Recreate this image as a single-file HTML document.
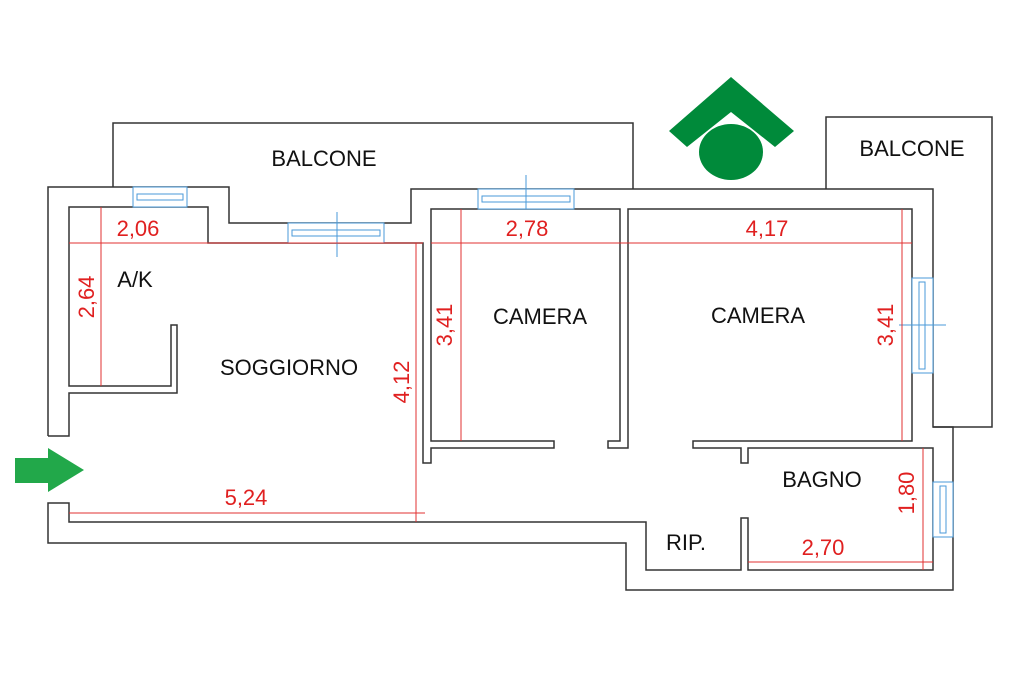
<!DOCTYPE html>
<html><head><meta charset="utf-8"><style>
body{margin:0;background:#fff}
svg{display:block}
text{font-family:"Liberation Sans",Arial,sans-serif}
</style></head><body>
<svg width="1024" height="682" viewBox="0 0 1024 682">
<rect width="1024" height="682" fill="#fff"/>
<g fill="none" stroke="#333" stroke-width="1.5">
<polyline points="113,187 113,123 633,123 633,189"/>
<polyline points="826,189 826,117 992,117 992,427 933,427"/>
<polyline points="48,436 48,187 229,187 229,223 411,223 411,189 933,189 933,427 953,427 953,590 626,590 626,543 48,543 48,503 69,503 69,522 646,522 646,570 741,570 741,518 748,518 748,570 933,570 933,448 748,448 748,463 741,463 741,448 693,448 693,441 912,441 912,209 628,209 628,448 608,448 608,441 620,441 620,209 431,209 431,441 554,441 554,448 431,448 431,463 423,463 423,243 208,243 208,207 69,207 69,386 171,386 171,325 177,325 177,393 69,393 69,436 48,436"/>
</g>
<g fill="#fff" stroke="#4a9ad8" stroke-width="1">
<rect x="133" y="187" width="54" height="20"/><rect x="137" y="194" width="46" height="6"/>
<rect x="288" y="223" width="96" height="20"/><rect x="292" y="230" width="88" height="6"/>
<rect x="478" y="189" width="96" height="20"/><rect x="482" y="196" width="88" height="6"/>
<rect x="912" y="278" width="21" height="95"/><rect x="919" y="282" width="6" height="87"/>
<rect x="933" y="482" width="20" height="55"/><rect x="940" y="486" width="6" height="47"/>
<line x1="337" y1="212" x2="337" y2="257"/>
<line x1="526" y1="175" x2="526" y2="209"/>
<line x1="899" y1="325" x2="946" y2="325"/>
</g>
<g stroke="#e03030" stroke-width="1">
<line x1="69" y1="243" x2="423" y2="243"/>
<line x1="101" y1="207" x2="101" y2="386"/>
<line x1="416" y1="243" x2="416" y2="522"/>
<line x1="69" y1="513" x2="425" y2="513"/>
<line x1="431" y1="243" x2="912" y2="243"/>
<line x1="461" y1="209" x2="461" y2="441"/>
<line x1="902" y1="209" x2="902" y2="441"/>
<line x1="923" y1="448" x2="923" y2="570"/>
<line x1="748" y1="562" x2="933" y2="562"/>
</g>
<g fill="#e02020" font-size="22" text-anchor="middle">
<text x="138" y="236">2,06</text>
<text x="527" y="236">2,78</text>
<text x="767" y="236">4,17</text>
<text x="246" y="505">5,24</text>
<text x="823" y="555">2,70</text>
<text transform="translate(94,297) rotate(-90)">2,64</text>
<text transform="translate(409,382) rotate(-90)">4,12</text>
<text transform="translate(452,325) rotate(-90)">3,41</text>
<text transform="translate(893,325) rotate(-90)">3,41</text>
<text transform="translate(914,493) rotate(-90)">1,80</text>
</g>
<g fill="#111" font-size="22" text-anchor="middle">
<text x="324" y="166">BALCONE</text>
<text x="912" y="156">BALCONE</text>
<text x="135" y="287">A/K</text>
<text x="289" y="375">SOGGIORNO</text>
<text x="540" y="324">CAMERA</text>
<text x="758" y="323">CAMERA</text>
<text x="822" y="487">BAGNO</text>
<text x="686" y="550">RIP.</text>
</g>
<polygon points="669,131 731,77 794,131 775,147 731,112 687,147" fill="#008a3a"/>
<ellipse cx="731" cy="152" rx="32" ry="28" fill="#008a3a"/>
<polygon points="15,458 48,458 48,448 84,470 48,492 48,483 15,483" fill="#22a84a"/>
</svg>
</body></html>
